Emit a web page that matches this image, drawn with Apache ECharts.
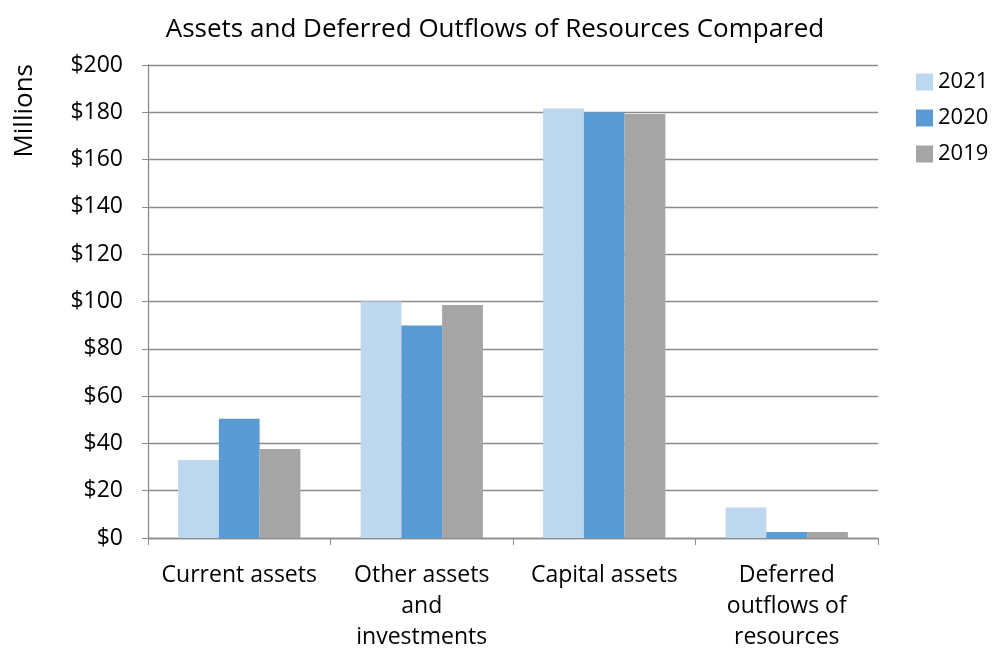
<!DOCTYPE html>
<html>
<head>
<meta charset="utf-8">
<script src="https://cdn.jsdelivr.net/npm/echarts@6/dist/echarts.min.js"></script>
<style>
  html, body { margin: 0; padding: 0; background: #fff; }
  #chart { width: 993px; height: 648px; }
</style>
</head>
<body>
<div id="chart"></div>
<script>
// Categories along the x axis
const categories = ['Current assets', 'Other assets\nand\ninvestments', 'Capital assets', 'Deferred\noutflows of\nresources'];
// Values in millions of dollars
const values2021 = [33, 100, 181.6, 12.9];
const values2020 = [50.4, 89.8, 180, 2.5];
const values2019 = [37.6, 98.5, 179.3, 2.5];
const seriesNames = ['2021', '2020', '2019'];
const yTicks = { min: 0, max: 200, interval: 20 };

const font = '"Open Sans", Lato, sans-serif';
const axisGray = '#8c8c8c';

const chart = echarts.init(document.getElementById('chart'), null, { renderer: 'canvas' });
chart.setOption({
  animation: false,
  textStyle: { fontFamily: font, color: '#000' },
  title: {
    text: 'Assets and Deferred Outflows of Resources Compared',
    left: 490, top: 12, textAlign: 'center',
    textStyle: { fontFamily: font, fontSize: 26, fontWeight: 'normal', color: '#000' }
  },
  legend: {
    orient: 'vertical', left: 911, top: 66,
    itemWidth: 17, itemHeight: 17, itemGap: 14,
    icon: 'rect',
    textStyle: { fontFamily: font, fontSize: 22, color: '#000' },
    data: seriesNames
  },
  graphic: [{
    type: 'text', left: 12, top: 64, rotation: Math.PI / 2,
    style: { text: 'Millions', font: '26px ' + font, fill: '#000' }
  }],
  grid: { left: 148, right: 115, top: 65, bottom: 110, containLabel: false, outerBoundsMode: 'none' },
  xAxis: {
    type: 'category', data: categories,
    axisLine: { lineStyle: { color: axisGray, width: 1.3 } },
    axisTick: { show: true, length: 7, lineStyle: { color: axisGray } },
    axisLabel: { fontFamily: font, fontSize: 23, color: '#000', margin: 22, lineHeight: 31, interval: 0 }
  },
  yAxis: {
    type: 'value', min: yTicks.min, max: yTicks.max, interval: yTicks.interval,
    axisLine: { show: true, lineStyle: { color: axisGray, width: 1.3 } },
    axisTick: { show: true, length: 6, lineStyle: { color: axisGray } },
    splitLine: { lineStyle: { color: axisGray, width: 1.3 } },
    axisLabel: { fontFamily: font, fontSize: 23, color: '#000', margin: 25, formatter: v => '$' + v }
  },
  series: [
    { name: seriesNames[0], type: 'bar', data: values2021, itemStyle: { color: '#BDD7EE' }, barGap: '0%', barCategoryGap: '33%' },
    { name: seriesNames[1], type: 'bar', data: values2020, itemStyle: { color: '#5B9BD5' }, barGap: '0%', barCategoryGap: '33%' },
    { name: seriesNames[2], type: 'bar', data: values2019, itemStyle: { color: '#A5A5A5' }, barGap: '0%', barCategoryGap: '33%' }
  ]
});
</script>
</body>
</html>
